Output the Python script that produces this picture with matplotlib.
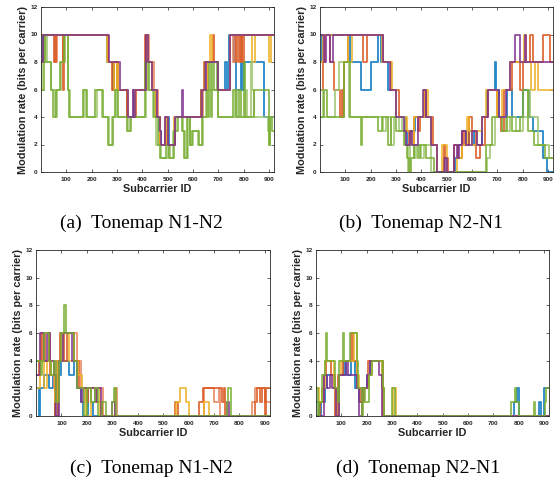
import matplotlib
matplotlib.use("Agg")
import matplotlib.pyplot as plt

# ── Config ────────────────────────────────────────────────────────────────
XMAX = 920
YMAX = 12
X_TICKS = [100, 200, 300, 400, 500, 600, 700, 800, 900]
Y_TICKS = [0, 2, 4, 6, 8, 10, 12]
X_LABEL = "Subcarrier ID"
Y_LABEL = "Modulation rate (bits per carrier)"
CAPTIONS = ["(a)  Tonemap N1-N2", "(b)  Tonemap N2-N1",
            "(c)  Tonemap N1-N2", "(d)  Tonemap N2-N1"]

# MATLAB default line colours
BLUE   = "#0072BD"
ORANGE = "#D95319"
YELLOW = "#EDB120"
PURPLE = "#7E2F8E"
GREEN  = "#77AC30"
LGREEN = "#9CC46A"
SALMON = "#E8825A"

# ── Data: each trace is a list of (start subcarrier, bits) steps ───────────
A_BLUE = [(1, 8), (8, 10), (262, 8), (285, 6), (290, 8), (300, 6), (338, 4), (368, 6),
          (415, 10), (422, 8), (440, 6), (455, 4), (465, 3), (472, 2), (495, 4), (505, 2),
          (530, 4), (632, 6), (648, 8), (700, 6), (728, 8), (735, 6), (742, 10), (764, 8),
          (770, 6), (790, 8), (795, 6), (800, 8), (880, 4)]
A_ORANGE = [(1, 10), (50, 8), (60, 10), (85, 6), (92, 10), (265, 8), (280, 6), (288, 8),
            (305, 6), (340, 4), (375, 6), (412, 10), (420, 8), (440, 6), (455, 4), (468, 2),
            (490, 3), (497, 2), (528, 4), (630, 6), (645, 8), (680, 10), (684, 8), (700, 6),
            (745, 10), (770, 8), (775, 10), (780, 8), (785, 10), (795, 8), (800, 10)]
A_YELLOW = [(1, 10), (262, 8), (290, 6), (300, 8), (305, 6), (345, 4), (372, 6), (418, 10),
            (424, 8), (440, 6), (455, 4), (470, 2), (492, 4), (498, 2), (525, 4), (635, 6),
            (655, 8), (668, 10), (675, 8), (700, 6), (745, 10), (835, 8), (845, 10),
            (900, 8), (910, 10)]
A_SALMON = [(1, 8), (10, 10), (55, 8), (62, 10), (88, 8), (95, 10), (265, 8), (300, 6),
            (340, 4), (370, 6), (415, 10), (425, 8), (445, 6), (460, 4), (470, 2), (490, 4),
            (500, 2), (530, 4), (640, 6), (660, 8), (700, 6), (745, 10), (760, 8), (765, 10),
            (790, 8), (792, 10)]
A_PURPLE = [(1, 8), (8, 10), (268, 8), (310, 6), (342, 4), (362, 6), (365, 4), (370, 6),
            (415, 10), (422, 8), (440, 6), (458, 4), (468, 3), (475, 2), (490, 4), (502, 2),
            (528, 4), (558, 6), (562, 4), (635, 6), (650, 8), (700, 6), (745, 10)]
A_GREEN = [(1, 6), (10, 10), (16, 8), (38, 6), (48, 4), (60, 6), (75, 8), (90, 10),
           (105, 6), (112, 4), (165, 6), (180, 4), (215, 6), (245, 4), (265, 2), (285, 4),
           (292, 6), (305, 4), (340, 3), (355, 4), (412, 8), (425, 6), (445, 4), (460, 2),
           (470, 1), (495, 2), (505, 1), (525, 3), (540, 4), (555, 3), (565, 1), (578, 4),
           (588, 2), (598, 3), (625, 2), (635, 4), (655, 6), (660, 4), (665, 8), (670, 4),
           (675, 8), (685, 6), (695, 8), (700, 4), (760, 6), (770, 4), (780, 6), (790, 4),
           (800, 8), (805, 4), (840, 6), (900, 2), (905, 4), (912, 3)]
A_LGREEN = [(1, 6), (5, 8), (20, 10), (25, 8), (40, 6), (55, 4), (62, 6), (80, 8), (95, 10),
            (108, 6), (115, 4), (170, 6), (178, 4), (220, 6), (240, 4), (270, 2), (282, 4),
            (295, 6), (302, 4), (345, 3), (350, 4), (415, 8), (422, 6), (442, 4), (455, 2),
            (475, 1), (500, 2), (510, 1), (522, 3), (535, 4), (560, 3), (570, 1), (582, 4),
            (590, 2), (600, 3), (620, 2), (640, 4), (650, 6), (700, 4), (765, 6), (775, 4),
            (810, 6), (815, 4), (830, 8), (835, 6), (840, 4), (895, 3), (900, 2), (905, 4)]

B_BLUE = [(1, 8), (8, 10), (120, 8), (160, 6), (200, 8), (230, 10), (240, 8), (270, 6),
          (300, 4), (335, 3), (345, 2), (360, 3), (375, 4), (410, 6), (420, 4), (440, 2),
          (462, 0), (490, 1), (500, 0), (535, 1), (545, 2), (560, 3), (575, 2), (590, 3),
          (610, 2), (640, 4), (660, 6), (690, 8), (695, 6), (705, 4), (740, 6), (760, 4),
          (800, 6), (825, 4), (840, 3), (880, 1), (895, 0)]
B_ORANGE = [(1, 6), (10, 8), (20, 10), (40, 8), (55, 6), (80, 4), (85, 6), (90, 4), (95, 8),
            (110, 10), (170, 8), (185, 10), (250, 8), (280, 6), (310, 4), (340, 3), (350, 2),
            (370, 4), (385, 3), (395, 4), (412, 6), (420, 4), (445, 2), (460, 0), (488, 2),
            (495, 1), (505, 0), (530, 2), (545, 1), (560, 3), (570, 2), (590, 4), (600, 3),
            (615, 1), (630, 2), (650, 4), (665, 6), (700, 4), (715, 3), (725, 6), (760, 8),
            (790, 6), (800, 8), (830, 10), (840, 8), (880, 10), (910, 8)]
B_YELLOW = [(1, 8), (12, 10), (110, 8), (125, 10), (245, 8), (285, 6), (300, 4), (345, 3),
            (360, 2), (372, 4), (410, 6), (425, 4), (440, 2), (460, 0), (480, 2), (500, 0),
            (540, 1), (560, 2), (580, 4), (590, 3), (600, 2), (620, 3), (640, 4), (655, 6),
            (700, 4), (720, 6), (750, 8), (805, 10), (812, 8), (835, 6), (850, 8), (860, 6)]
B_PURPLE = [(1, 10), (15, 8), (25, 10), (40, 8), (50, 10), (250, 8), (278, 6), (300, 4),
            (330, 3), (340, 2), (355, 3), (365, 2), (385, 4), (405, 6), (420, 4), (440, 2),
            (462, 0), (492, 1), (500, 0), (528, 2), (540, 1), (548, 2), (560, 3), (575, 2),
            (600, 3), (620, 2), (640, 4), (662, 6), (705, 4), (735, 6), (750, 8), (770, 10),
            (790, 8), (810, 10), (815, 8)]
B_GREEN = [(1, 4), (15, 6), (28, 4), (95, 8), (120, 4), (160, 2), (165, 4), (230, 3),
           (245, 4), (270, 2), (282, 4), (300, 3), (330, 2), (345, 1), (350, 0), (360, 1),
           (370, 2), (385, 1), (395, 2), (420, 1), (450, 0), (655, 2), (680, 4), (720, 3),
           (740, 4), (760, 3), (790, 4), (800, 6), (820, 3), (845, 2), (890, 1)]
B_LGREEN = [(1, 6), (12, 4), (60, 6), (75, 8), (115, 4), (230, 4), (250, 3), (260, 4),
            (280, 2), (292, 4), (310, 3), (325, 4), (335, 2), (348, 0), (355, 2), (370, 1),
            (380, 2), (400, 1), (410, 2), (440, 0), (660, 1), (670, 2), (690, 4), (735, 3),
            (750, 4), (775, 3), (800, 4), (820, 6), (830, 4), (860, 2), (905, 1)]

C_BLUE = [(1, 2), (10, 0), (15, 2), (30, 3), (50, 2), (65, 3), (75, 0), (88, 3), (100, 4),
          (130, 3), (148, 4), (160, 2), (175, 1), (185, 0), (205, 2), (215, 1), (225, 0)]
C_ORANGE = [(1, 3), (12, 4), (25, 6), (35, 4), (50, 6), (55, 3), (75, 0), (85, 4), (95, 6),
            (110, 4), (120, 6), (150, 4), (170, 2), (195, 1), (205, 2), (240, 1), (260, 0),
            (545, 1), (560, 0), (640, 1), (655, 2), (730, 1), (740, 2), (745, 0), (860, 1),
            (870, 2), (880, 1), (890, 2), (900, 0), (905, 2)]
C_YELLOW = [(1, 2), (15, 4), (30, 2), (45, 4), (60, 3), (75, 1), (85, 4), (105, 6), (130, 4),
            (165, 3), (180, 2), (195, 0), (215, 2), (250, 0), (550, 1), (565, 2), (590, 1),
            (600, 0), (660, 1), (680, 0)]
C_SALMON = [(1, 4), (20, 6), (30, 4), (70, 2), (80, 4), (100, 6), (160, 4), (175, 2),
            (225, 2), (265, 0), (310, 2), (320, 0), (600, 0), (660, 2), (700, 1), (720, 2),
            (725, 0), (850, 1), (860, 2), (900, 1)]
C_PURPLE = [(1, 3), (15, 6), (30, 4), (45, 6), (55, 4), (70, 3), (80, 0), (90, 4), (105, 6),
            (140, 4), (160, 2), (175, 1), (185, 2), (230, 1), (240, 2), (255, 0), (300, 1),
            (310, 0), (750, 1), (760, 0)]
C_GREEN = [(1, 4), (20, 3), (25, 4), (30, 6), (50, 4), (60, 3), (70, 4), (80, 1), (90, 4),
           (100, 6), (110, 8), (118, 6), (150, 4), (160, 2), (190, 0), (200, 2), (215, 1),
           (230, 2), (245, 0), (260, 1), (275, 0), (300, 1), (305, 2), (315, 0), (750, 1),
           (755, 2), (765, 0)]

D_BLUE = [(1, 1), (10, 0), (20, 1), (35, 2), (45, 3), (70, 2), (80, 0), (90, 3), (110, 4),
          (120, 3), (140, 4), (155, 2), (170, 1), (185, 2), (200, 3), (215, 4), (260, 2),
          (270, 0), (780, 1), (795, 2), (800, 0), (880, 1), (890, 0), (900, 2)]
D_ORANGE = [(1, 0), (15, 1), (30, 3), (40, 4), (60, 3), (75, 0), (88, 3), (105, 4), (140, 6),
            (148, 4), (160, 2), (175, 1), (190, 2), (205, 4), (265, 0)]
D_YELLOW = [(1, 2), (12, 1), (25, 2), (35, 4), (70, 2), (80, 0), (90, 3), (100, 4), (150, 6),
            (160, 3), (170, 2), (210, 3), (220, 4), (262, 2), (270, 0), (305, 2), (315, 0)]
D_PURPLE = [(1, 0), (30, 3), (42, 2), (55, 3), (65, 2), (78, 0), (92, 3), (120, 4), (125, 3),
            (160, 2), (170, 0), (180, 2), (200, 3), (215, 4), (250, 3), (262, 0)]
D_GREEN = [(1, 2), (8, 0), (12, 1), (25, 3), (35, 4), (38, 6), (45, 4), (75, 2), (85, 1),
           (92, 4), (105, 6), (112, 4), (135, 6), (160, 4), (165, 2), (180, 0), (185, 2),
           (195, 1), (210, 3), (220, 4), (265, 2), (270, 0), (300, 2), (312, 0), (770, 1),
           (785, 2), (790, 1), (800, 0), (860, 1), (865, 0), (905, 1), (910, 2)]

PANELS = [
    [(A_BLUE, BLUE), (A_SALMON, SALMON), (A_ORANGE, ORANGE), (A_YELLOW, YELLOW),
     (A_LGREEN, LGREEN), (A_GREEN, GREEN), (A_PURPLE, PURPLE)],
    [(B_BLUE, BLUE), (B_ORANGE, ORANGE), (B_YELLOW, YELLOW), (B_LGREEN, LGREEN),
     (B_GREEN, GREEN), (B_PURPLE, PURPLE)],
    [(C_BLUE, BLUE), (C_SALMON, SALMON), (C_ORANGE, ORANGE), (C_YELLOW, YELLOW),
     (C_PURPLE, PURPLE), (C_GREEN, GREEN)],
    [(D_BLUE, BLUE), (D_ORANGE, ORANGE), (D_YELLOW, YELLOW), (D_PURPLE, PURPLE),
     (D_GREEN, GREEN)],
]

# axes boxes in figure pixels: left, top, right, bottom
BOXES = [(41, 7, 274, 172), (320, 7, 553, 172), (36, 250, 270, 416), (316, 250, 549, 416)]
CAPTION_POS = [(141, 223), (421, 223), (152, 468), (418, 468)]

W, H = 555, 479


def draw_trace(ax, steps, color):
    xs = [s for s, _ in steps] + [XMAX]
    ys = [v for _, v in steps] + [steps[-1][1]]
    ax.step(xs, ys, where="post", color=color, lw=1.3, alpha=0.85)


fig = plt.figure(figsize=(W / 100, H / 100), dpi=100)

for (l, t, r, b), traces, cap, (cx, cy) in zip(BOXES, PANELS, CAPTIONS, CAPTION_POS):
    ax = fig.add_axes([l / W, (H - b) / H, (r - l) / W, (b - t) / H])
    for steps, color in traces:
        draw_trace(ax, steps, color)
    ax.set_xlim(0, XMAX)
    ax.set_ylim(0, YMAX)
    ax.set_xticks(X_TICKS)
    ax.set_yticks(Y_TICKS)
    ax.tick_params(direction="in", length=2, width=0.5, top=True, right=True,
                   labelsize=4.6, colors="#262626")
    ax.tick_params(axis="x", pad=3.5)
    ax.tick_params(axis="y", pad=2.5)
    for lab in ax.get_xticklabels() + ax.get_yticklabels():
        lab.set_fontweight("bold")
        lab.set_family("Liberation Sans")
    for sp in ax.spines.values():
        sp.set_linewidth(0.6)
        sp.set_color("#262626")
    ax.set_xlabel(X_LABEL, fontsize=7.8, fontweight="bold", family="Liberation Sans",
                  labelpad=1.5, color="#262626")
    ax.set_ylabel(Y_LABEL, fontsize=7.8, fontweight="bold", family="Liberation Sans",
                  labelpad=1.5, color="#262626")
    fig.text(cx / W, 1 - cy / H, cap, ha="center", va="center", fontsize=14,
             family="Liberation Serif")

fig.savefig("out.png", dpi=100)
